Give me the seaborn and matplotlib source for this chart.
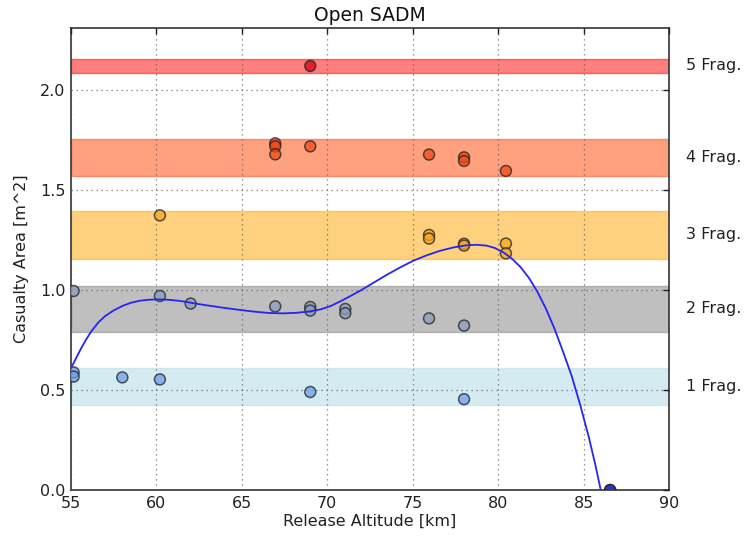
import matplotlib
matplotlib.use("Agg")
import matplotlib.pyplot as plt
import matplotlib.transforms as mtransforms
import numpy as np
import pandas as pd
import seaborn as sns

# Measured casualty areas per fragmentation outcome
frag5_alt = [69.0]
frag5_area = [2.12]
frag4_alt = [66.95, 66.95, 66.95, 69.0, 75.95, 78.0, 78.0, 80.45]
frag4_area = [1.733, 1.718, 1.678, 1.718, 1.677, 1.663, 1.645, 1.595]
frag3_alt = [60.2, 75.95, 75.95, 78.0, 78.0, 80.45, 80.45]
frag3_area = [1.373, 1.275, 1.257, 1.231, 1.222, 1.232, 1.183]
frag2_alt = [55.15, 60.2, 62.0, 66.95, 69.0, 69.0, 71.05, 71.05, 75.95, 78.0]
frag2_area = [0.995, 0.97, 0.932, 0.918, 0.915, 0.897, 0.905, 0.884, 0.858, 0.822]
frag1_alt = [55.15, 55.15, 58.0, 60.2, 69.0, 78.0]
frag1_area = [0.588, 0.567, 0.563, 0.553, 0.49, 0.454]
frag0_alt = [86.55, 86.55]
frag0_area = [0.0, 0.0]

# Casualty area bands per number of fragments (low, high)
band_labels = ["1 Frag.", "2 Frag.", "3 Frag.", "4 Frag.", "5 Frag."]
band_low = [0.425, 0.79, 1.155, 1.57, 2.085]
band_high = [0.61, 1.02, 1.395, 1.755, 2.155]
band_colors = ["lightblue", "gray", "orange", "orangered", "red"]

# Trend curve of casualty area versus release altitude
trend_alt = [55.0, 55.3, 55.6, 55.9, 56.2, 56.6, 57.0, 57.5, 58.0, 58.5, 59.0,
             59.5, 60.1, 60.7, 61.3, 61.9, 62.5, 63.2, 64.0, 64.9, 65.8, 66.6,
             67.4, 68.2, 68.9, 69.6, 70.2, 70.8, 71.4, 72.0, 72.7, 73.4, 74.2,
             75.0, 75.8, 76.6, 77.4, 78.1, 78.7, 79.3, 79.8, 80.3, 80.8, 81.3,
             81.8, 82.3, 82.8, 83.3, 83.8, 84.3, 84.8, 85.3, 85.7, 86.0, 86.3]
trend_area = [0.61, 0.66, 0.71, 0.755, 0.795, 0.838, 0.870, 0.898, 0.920, 0.936,
              0.946, 0.951, 0.953, 0.951, 0.946, 0.938, 0.929, 0.920, 0.910, 0.900,
              0.891, 0.885, 0.883, 0.886, 0.892, 0.903, 0.920, 0.945, 0.972, 1.000,
              1.036, 1.072, 1.110, 1.145, 1.173, 1.196, 1.213, 1.223, 1.226, 1.222,
              1.210, 1.188, 1.157, 1.115, 1.060, 0.990, 0.905, 0.805, 0.690, 0.570,
              0.425, 0.265, 0.120, 0.0, -0.12]

groups = {
    "0": (frag0_alt, frag0_area),
    "1": (frag1_alt, frag1_area),
    "2": (frag2_alt, frag2_area),
    "3": (frag3_alt, frag3_area),
    "4": (frag4_alt, frag4_area),
    "5": (frag5_alt, frag5_area),
}
df = pd.concat(
    [pd.DataFrame({"alt": a, "area": c, "frag": k}) for k, (a, c) in groups.items()],
    ignore_index=True,
)
point_palette = {
    "0": "#1a2fb8",
    "1": "#6f9fec",
    "2": "#8a9cbc",
    "3": "#f5a623",
    "4": "#f04a14",
    "5": "#d80010",
}

sns.set_theme(style="white")
plt.rcParams.update({
    "font.family": ["DejaVu Sans"],
    "xtick.direction": "in",
    "ytick.direction": "in",
    "xtick.top": True,
    "ytick.right": True,
    "xtick.major.size": 4,
    "ytick.major.size": 4,
    "axes.edgecolor": "#333333",
    "axes.linewidth": 1.2,
})

fig = plt.figure(figsize=(7.48, 5.37), dpi=100)
ax = fig.add_axes([0.095, 0.0875, 0.7995, 0.8605])

for lo, hi, col in zip(band_low, band_high, band_colors):
    ax.axhspan(lo, hi, facecolor=col, edgecolor=col, alpha=0.5, lw=1.0, zorder=1)

ax.set_axisbelow(False)
ax.grid(True, color="#555555", linestyle=(0, (1, 3)), linewidth=0.9, alpha=0.8)

sns.scatterplot(data=df, x="alt", y="area", hue="frag", palette=point_palette,
                s=62, alpha=0.75, edgecolor="#222222", linewidth=1.1,
                legend=False, ax=ax, zorder=3)

sns.lineplot(x=trend_alt, y=trend_area, color="#2525f5", lw=1.3, sort=False,
             estimator=None, ax=ax, zorder=4)

ax.set_xlim(55, 90)
ax.set_ylim(0, 2.31)
ax.set_xticks([55, 60, 65, 70, 75, 80, 85, 90])
ax.set_yticks([0.0, 0.5, 1.0, 1.5, 2.0])
ax.set_yticklabels(["0.0", "0.5", "1.0", "1.5", "2.0"])
ax.tick_params(labelsize=11.5, colors="#222222", width=1.0, pad=4)
for lbl in ax.get_xticklabels() + ax.get_yticklabels():
    lbl.set_color("#222222")

ax.set_xlabel("Release Altitude [km]", fontsize=11.5, color="#222222", labelpad=2)
ax.set_ylabel("Casualty Area [m^2]", fontsize=11.5, color="#222222", labelpad=8)
ax.set_title("Open SADM", fontsize=13.5, color="#111111", pad=5)

trans = mtransforms.blended_transform_factory(ax.transAxes, ax.transData)
for lbl, lo, hi in zip(band_labels, band_low, band_high):
    ax.text(1.028, (lo + hi) / 2, lbl, transform=trans, ha="left", va="center",
            fontsize=11.5, color="#222222")

fig.savefig("out.png", dpi=100)
